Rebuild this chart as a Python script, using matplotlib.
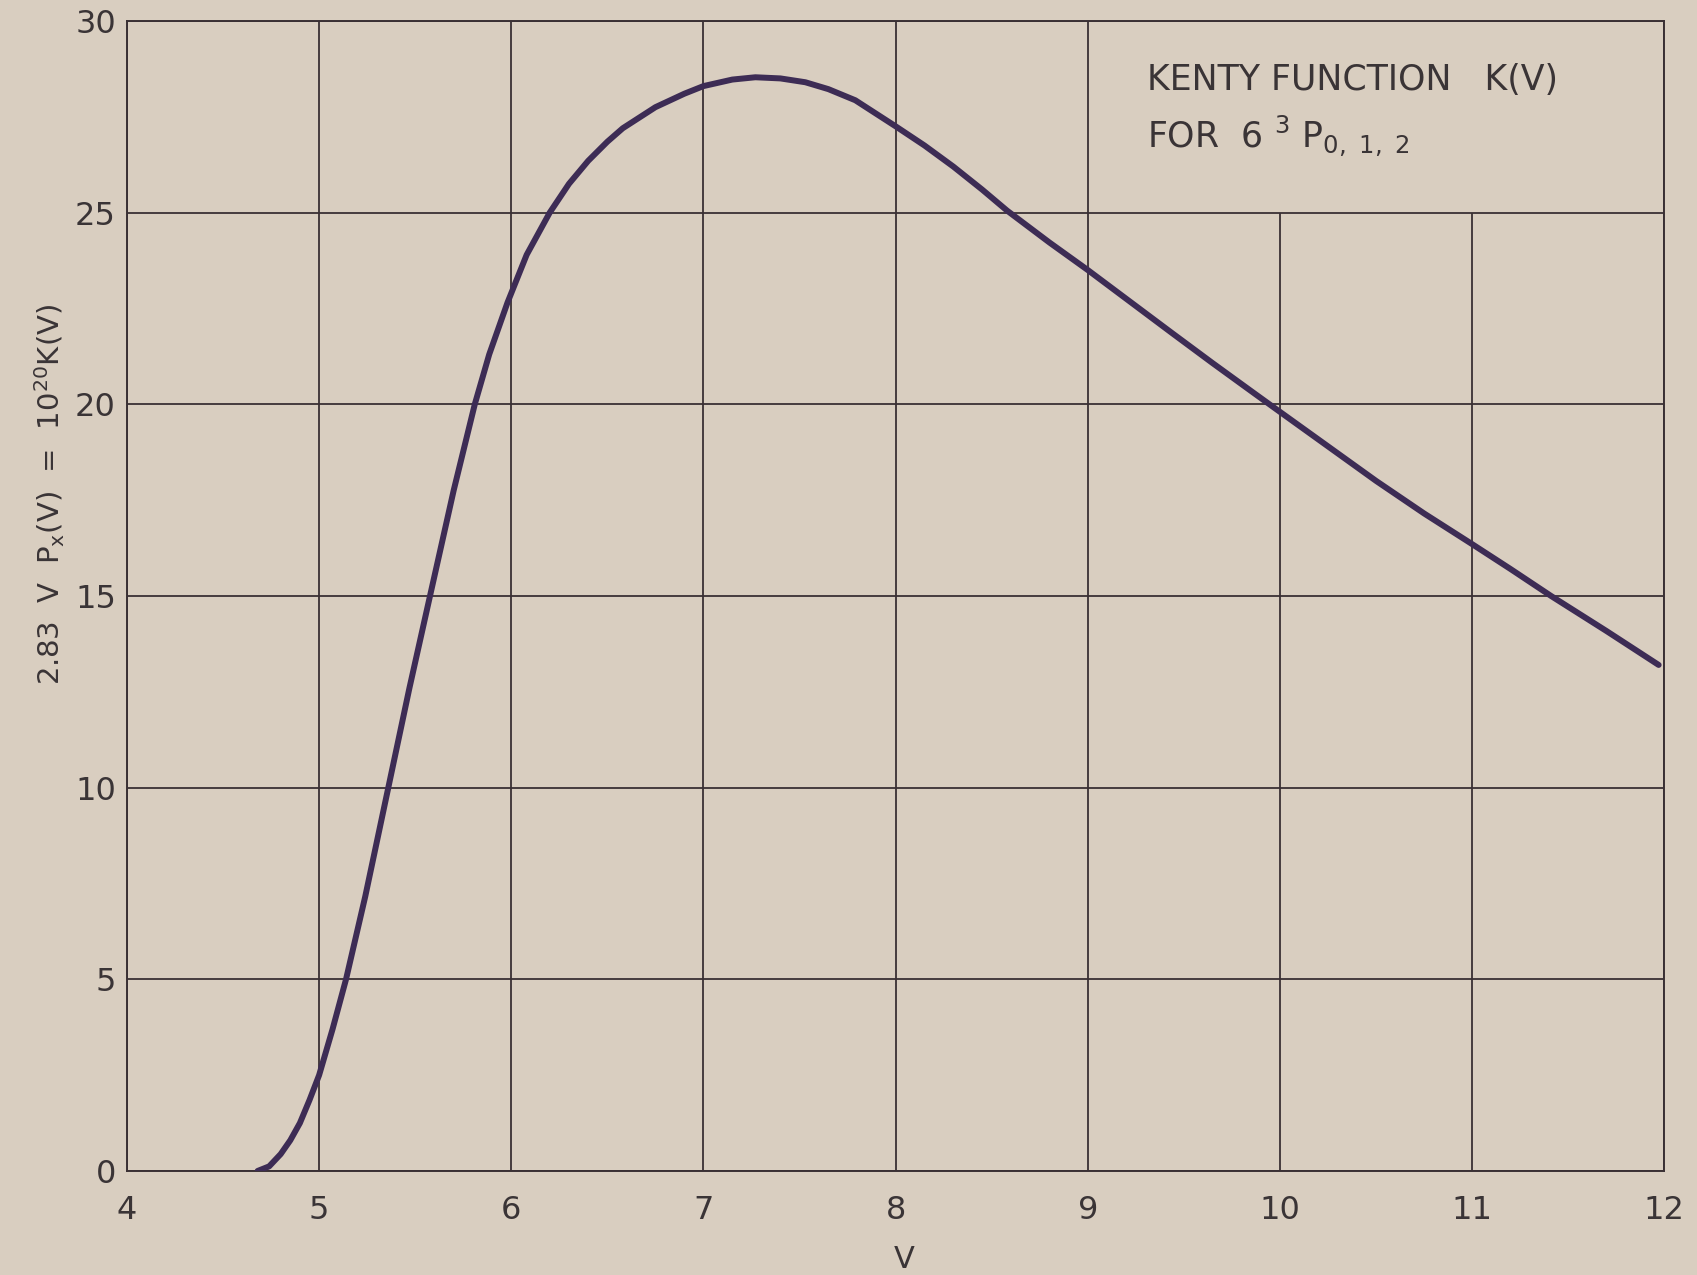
import matplotlib
matplotlib.use('Agg')
import matplotlib.pyplot as plt
import numpy as np

# Kenty function
V = [4.68, 4.74, 4.8, 4.85, 4.9, 4.95, 5.0, 5.07, 5.14, 5.24, 5.36, 5.47,
     5.577, 5.70, 5.81, 5.885, 5.98, 6.08, 6.2, 6.3, 6.4, 6.5, 6.58, 6.75,
     6.9, 7.0, 7.15, 7.27, 7.4, 7.53, 7.65, 7.79, 8.0, 8.15, 8.3, 8.45, 8.58,
     8.8, 9.0, 9.2, 9.44, 9.65, 9.87, 10.0, 10.25, 10.5, 10.75, 11.0, 11.2,
     11.41, 11.7, 11.97]
K = [0.0, 0.12, 0.44, 0.8, 1.25, 1.85, 2.5, 3.7, 5.0, 7.16, 10.0, 12.6,
     15.0, 17.75, 20.0, 21.3, 22.65, 23.9, 25.0, 25.75, 26.35, 26.85, 27.2, 27.75,
     28.1, 28.3, 28.47, 28.53, 28.5, 28.4, 28.22, 27.93, 27.25, 26.75, 26.2, 25.6, 25.05,
     24.22, 23.5, 22.75, 21.85, 21.07, 20.27, 19.8, 18.9, 18.0, 17.15, 16.35, 15.7,
     15.0, 14.08, 13.2]

x_ticks = [4, 5, 6, 7, 8, 9, 10, 11, 12]
y_ticks = [0, 5, 10, 15, 20, 25, 30]
# vertical grid lines under the label box stop at 25
x_grid_top = [30, 30, 30, 30, 30, 30, 25, 25, 30]

paper = '#d9cec0'
ink = '#3a3034'
pen = '#3d2c55'
txt = '#3a3436'

plt.rcParams['font.family'] = ['DejaVu Sans']
plt.rcParams['mathtext.default'] = 'regular'

fig = plt.figure(figsize=(16.97, 12.75), dpi=100, facecolor=paper)
ax = fig.add_axes([0.0748, 0.0816, 0.906, 0.902])
ax.set_facecolor(paper)

ax.set_xlim(4, 12)
ax.set_ylim(0, 30)

# hand-ruled grid
ax.vlines(x_ticks, 0, x_grid_top, color=ink, lw=1.3, zorder=1)
ax.hlines(y_ticks, 4, 12, color=ink, lw=1.3, zorder=1)
for s in ax.spines.values():
    s.set_color(ink)
    s.set_linewidth(1.4)

ax.plot(V, K, color=pen, lw=4.3, solid_capstyle='round',
        solid_joinstyle='round', zorder=3)

ax.set_xticks(x_ticks)
ax.set_yticks(y_ticks)
ax.tick_params(length=0, labelsize=23, colors=txt)
ax.tick_params(axis='x', pad=17)
ax.tick_params(axis='y', pad=8)

ax.text(9.31, 28.46, 'KENTY FUNCTION   K(V)', fontsize=25, color=txt,
        va='center', ha='left')
ax.text(9.31, 27.0, r'FOR  6 $^{3}$ P$_{0,\ 1,\ 2}$', fontsize=25, color=txt,
        va='center', ha='left')

fig.text(0.029, 0.612, r'2.83  V  P$_{x}$(V)  =  10$^{20}$K(V)', rotation=90,
         fontsize=21, color=txt, ha='center', va='center')
fig.text(0.533, 0.0125, 'V', fontsize=22, color=txt, ha='center', va='center')

fig.savefig('out.png', dpi=100, facecolor=paper)
